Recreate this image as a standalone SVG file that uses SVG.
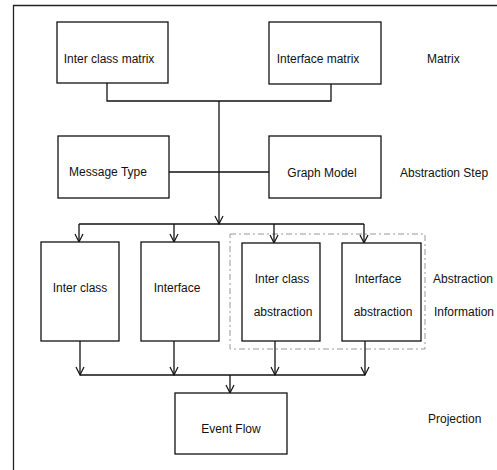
<svg xmlns="http://www.w3.org/2000/svg" width="497" height="470" viewBox="0 0 497 470">
<defs>
<marker id="arr" viewBox="-10 -6 12 12" markerWidth="12" markerHeight="12" refX="0" refY="0" markerUnits="userSpaceOnUse" orient="auto" overflow="visible">
<path d="M-8,-4 L0,0 L-8,4" fill="none" stroke="#111" stroke-width="1.2"/>
</marker>
<style>
.box{fill:#fff;stroke:#111;stroke-width:1.3}
.ln{fill:none;stroke:#111;stroke-width:1.3}
.ar{fill:none;stroke:#111;stroke-width:1.3;marker-end:url(#arr)}
text{font-family:"Liberation Sans",Arial,sans-serif;font-size:12px;fill:#111}
.c{text-anchor:middle}
</style>
</defs>
<rect width="497" height="470" fill="#fff"/>
<g id="frame">
<path d="M13.5,470 L13.5,5.5 L497,5.5" fill="none" stroke="#222" stroke-width="1.3"/>
</g>
<g id="abstraction-group">
<rect x="230" y="234" width="195" height="115" fill="none" stroke="#999" stroke-width="1" stroke-dasharray="6 3 2 3"/>
</g>
<g id="connectors">
<path class="ln" d="M107,83 L107,101 L331,101 L331,84"/>
<path class="ar" d="M219,101 L219,224"/>
<path class="ln" d="M169,172 L269,172"/>
<path class="ln" d="M79,224 L364,224"/>
<path class="ar" d="M79,224 L79,242"/>
<path class="ar" d="M174,224 L174,242"/>
<path class="ar" d="M274,224 L274,243"/>
<path class="ar" d="M364,224 L364,243"/>
<path class="ar" d="M80,341 L80,375"/>
<path class="ar" d="M174,341 L174,375"/>
<path class="ar" d="M275,341 L275,375"/>
<path class="ar" d="M365,341 L365,375"/>
<path class="ln" d="M80,375 L365,375"/>
<path class="ar" d="M230,375 L230,393"/>
</g>
<g id="inter-class-matrix">
<rect class="box" x="57" y="22" width="111" height="61"/>
<text class="c" x="109" y="63">Inter class matrix</text>
</g>
<g id="interface-matrix">
<rect class="box" x="269" y="22" width="112" height="62"/>
<text class="c" x="318" y="63">Interface matrix</text>
</g>
<g id="message-type">
<rect class="box" x="58" y="136" width="111" height="62"/>
<text class="c" x="108" y="176">Message Type</text>
</g>
<g id="graph-model">
<rect class="box" x="269" y="136" width="112" height="62"/>
<text class="c" x="322" y="177">Graph Model</text>
</g>
<g id="inter-class">
<rect class="box" x="41" y="242" width="78" height="99"/>
<text class="c" x="80" y="292">Inter class</text>
</g>
<g id="interface">
<rect class="box" x="141" y="242" width="78" height="99"/>
<text class="c" x="177" y="292">Interface</text>
</g>
<g id="inter-class-abstraction">
<rect class="box" x="242" y="243" width="78" height="98"/>
<text class="c" x="282" y="283">Inter class</text>
<text class="c" x="283" y="316">abstraction</text>
</g>
<g id="interface-abstraction">
<rect class="box" x="342" y="243" width="79" height="98"/>
<text class="c" x="378" y="283">Interface</text>
<text class="c" x="383" y="316">abstraction</text>
</g>
<g id="event-flow">
<rect class="box" x="175" y="393" width="112" height="61"/>
<text class="c" x="231" y="433">Event Flow</text>
</g>
<g id="labels">
<text x="427" y="63">Matrix</text>
<text x="400" y="177">Abstraction Step</text>
<text x="433" y="283">Abstraction</text>
<text x="434" y="316">Information</text>
<text x="428" y="423">Projection</text>
</g>
</svg>
